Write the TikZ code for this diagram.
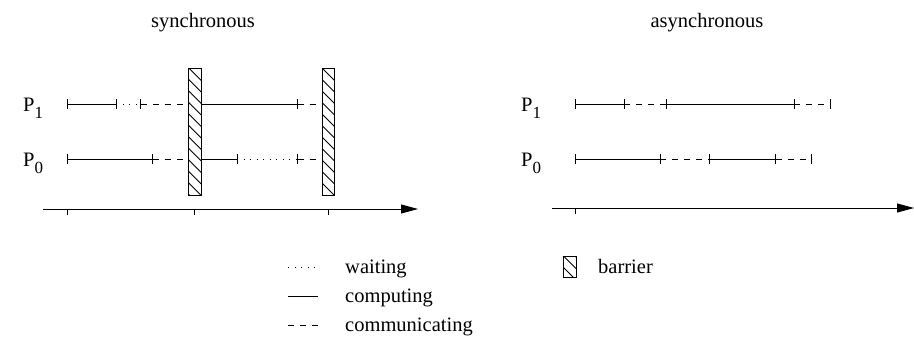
\documentclass[tikz,border=0pt]{standalone}
\usepackage{fontspec}
\setmainfont{Liberation Serif}
\newfontfamily\figfont{Liberation Serif}
\usetikzlibrary{arrows.meta}
\tikzset{
  base/.style={line width=0.8pt, black},
  compute/.style={base},
  comm/.style={base, dash pattern=on 6pt off 6pt},
  waitline/.style={base, dash pattern=on 1pt off 5.5pt},
  tickmark/.style={base},
  lbl/.style={font=\figfont\fontsize{20.5}{25}\selectfont, inner sep=0pt},
  axis/.style={base, -{Triangle[length=17pt,width=9pt]}},
  barrier/.style={base, draw, inner sep=0pt, outer sep=0pt,
    path picture={\foreach \k in {-3,...,14}
      \draw[base] ([yshift=-\k*11.5pt]path picture bounding box.north west) -- ++(24,24);}},
}
\newcommand\tk[1]{\draw[tickmark] (#1) ++(0,-5) -- ++(0,10);}
\newcommand\axtk[1]{\draw[tickmark] (#1) -- ++(0,6);}
\newcommand\subidx[1]{\raisebox{-7pt}{\fontsize{17}{17}\selectfont #1}}
\begin{document}
\begin{tikzpicture}[x=1pt,y=-1pt]
\useasboundingbox (0,0) rectangle (914,341);

% titles
\node[lbl, anchor=base] (tsync) at (203,27) {synchronous};
\node[lbl, anchor=base] (tasync) at (707,27) {asynchronous};

% process labels
\node[lbl, anchor=base west] (lp1) at (23,111) {P\subidx{1}};
\node[lbl, anchor=base west] (lp0) at (23,166) {P\subidx{0}};
\node[lbl, anchor=base west] (rp1) at (521,111) {P\subidx{1}};
\node[lbl, anchor=base west] (rp0) at (521,166) {P\subidx{0}};

% barriers
\node[barrier, minimum width=12.3pt, minimum height=127.3pt] (bar1) at (194.85,131.65) {};
\node[barrier, minimum width=12pt, minimum height=127.3pt] (bar2) at (328,131.65) {};

% ---------- synchronous ----------
% P1
\coordinate (a1) at (67.7,104);
\coordinate (a2) at (116.3,104);
\coordinate (a3) at (140.7,104);
\coordinate (a4) at (bar1.west |- a1);
\coordinate (a5) at (bar1.east |- a1);
\coordinate (a6) at (297.7,104);
\coordinate (a7) at (bar2.west |- a1);
\draw[compute] (a1) -- (a2);
\draw[waitline] (a2) -- (a3);
\draw[comm] (a3) -- (a4);
\draw[compute] (a5) -- (a6);
\draw[comm] (a6) -- (a7);
\tk{a1}\tk{a2}\tk{a3}\tk{a6}
% P0
\coordinate (b1) at (67.7,159);
\coordinate (b2) at (152.7,159);
\coordinate (b3) at (bar1.west |- b1);
\coordinate (b4) at (bar1.east |- b1);
\coordinate (b5) at (237,159);
\coordinate (b6) at (297.7,159);
\coordinate (b7) at (bar2.west |- b1);
\draw[compute] (b1) -- (b2);
\draw[comm] (b2) -- (b3);
\draw[compute] (b4) -- (b5);
\draw[waitline] (b5) -- (b6);
\draw[comm] (b6) -- (b7);
\tk{b1}\tk{b2}\tk{b5}\tk{b6}
% axis
\coordinate (ax0) at (43,209);
\coordinate (ax1) at (418,209);
\draw[axis] (ax0) -- (ax1);
\coordinate (t1) at (67.7,209);
\coordinate (t2) at (bar1.center |- ax0);
\coordinate (t3) at (bar2.center |- ax0);
\axtk{t1}\axtk{t2}\axtk{t3}

% ---------- asynchronous ----------
% P1
\coordinate (c1) at (575.7,104);
\coordinate (c2) at (624.3,104);
\coordinate (c3) at (666.7,104);
\coordinate (c4) at (794,104);
\coordinate (c5) at (830,104);
\draw[compute] (c1) -- (c2);
\draw[comm] (c2) -- (c3);
\draw[compute] (c3) -- (c4);
\draw[comm] (c4) -- (c5);
\tk{c1}\tk{c2}\tk{c3}\tk{c4}\tk{c5}
% P0
\coordinate (d1) at (575.7,159);
\coordinate (d2) at (660,159);
\coordinate (d3) at (709.3,159);
\coordinate (d4) at (775.7,159);
\coordinate (d5) at (811.7,159);
\draw[compute] (d1) -- (d2);
\draw[comm] (d2) -- (d3);
\draw[compute] (d3) -- (d4);
\draw[comm] (d4) -- (d5);
\tk{d1}\tk{d2}\tk{d3}\tk{d4}\tk{d5}
% axis
\coordinate (ex0) at (551.7,208);
\coordinate (ex1) at (914,208);
\draw[axis] (ex0) -- (ex1);
\coordinate (u1) at (575.7,208);
\axtk{u1}

% ---------- legend ----------
\coordinate (lw0) at (288,267); \coordinate (lw1) at (318,267);
\coordinate (lc0) at (288,296); \coordinate (lc1) at (318,296);
\coordinate (lm0) at (288,325); \coordinate (lm1) at (318,325);
\draw[waitline] (lw0) -- (lw1);
\draw[compute] (lc0) -- (lc1);
\draw[comm] (lm0) -- (lm1);
\node[lbl, anchor=base west] (lgw) at (345,273) {waiting};
\node[lbl, anchor=base west] (lgc) at (345,302) {computing};
\node[lbl, anchor=base west] (lgm) at (345,331) {communicating};
\node[barrier, minimum width=13pt, minimum height=21pt] (lgb) at (570,266.5) {};
\node[lbl, anchor=base west] (lgbt) at (598,273) {barrier};
\end{tikzpicture}
\end{document}
